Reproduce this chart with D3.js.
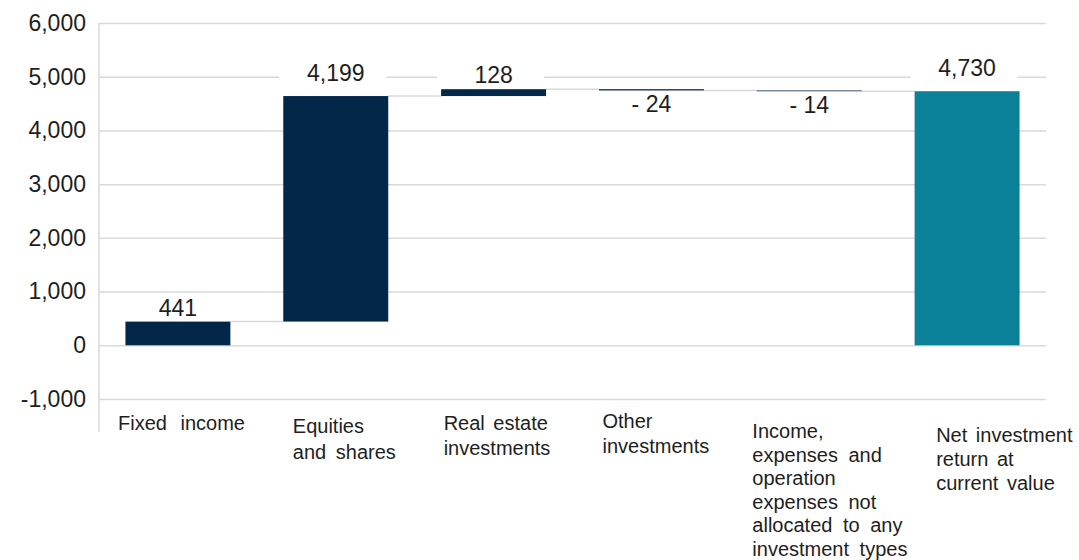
<!DOCTYPE html>
<html>
<head>
<meta charset="utf-8">
<script src="https://cdn.jsdelivr.net/npm/d3@7"></script>
<style>
  html, body { margin: 0; padding: 0; background: #fff; }
  svg { display: block; font-family: "Liberation Sans", Arial, sans-serif; }
</style>
</head>
<body>
<svg id="chart" width="1079" height="560"></svg>
<script>
// Contributions to net investment return (waterfall)
const categories = [
  "Fixed income",
  "Equities and shares",
  "Real estate investments",
  "Other investments",
  "Income, expenses and operation expenses not allocated to any investment types",
  "Net investment return at current value"
];
const categoryLines = [
  ["Fixed income"],
  ["Equities", "and shares"],
  ["Real estate", "investments"],
  ["Other", "investments"],
  ["Income,", "expenses and", "operation", "expenses not", "allocated to any", "investment types"],
  ["Net investment", "return at", "current value"]
];
const changes = [441, 4199, 128, -24, -14];
const totalValue = 4730;
const valueLabels = ["441", "4,199", "128", "- 24", "- 14", "4,730"];
const yTicks = [-1000, 0, 1000, 2000, 3000, 4000, 5000, 6000];

// Label placement for the wrapped category text blocks
const catLabelDx = [19, 36, 29, 30, 22, 48];
const catLabelY = [430, 433, 430, 428, 438, 442];
const catLineHeight = [26, 26, 25, 25, 23.5, 24];
const catWordSpacing = [8, 4, 3, 0, 5, 3];
const valueLabelGap = [6, 15, 6, 5, 5, 15];

const navy = "#022749";
const teal = "#0a8198";
const gridColor = "#d9d9d9";
const textColor = "#1e1e1e";

// Build waterfall segments
const bars = [];
let running = 0;
changes.forEach((v, i) => {
  const start = running;
  running += v;
  bars.push({ cat: categories[i], start, end: running, value: v, label: valueLabels[i], total: false });
});
bars.push({ cat: categories[5], start: 0, end: totalValue, value: totalValue, label: valueLabels[5], total: true });

const svg = d3.select("#chart");
const plotLeft = 99, plotRight = 1046, plotTop = 23, plotBottom = 399;

const y = d3.scaleLinear().domain([-1000, 6000]).range([plotBottom, plotTop]);
const x = d3.scaleBand().domain(categories).range([plotLeft, plotRight])
  .paddingInner(0.335).paddingOuter(0.1675);

// Gridlines and y tick labels
const yAxis = d3.axisLeft(y).tickValues(yTicks)
  .tickSize(-(plotRight - plotLeft)).tickPadding(13)
  .tickFormat(d3.format(",.0f"));
const gy = svg.append("g").attr("transform", `translate(${plotLeft},0)`).call(yAxis);
gy.select(".domain").remove();
gy.selectAll(".tick line").attr("stroke", gridColor).attr("stroke-width", 1.5);
gy.selectAll(".tick text")
  .attr("fill", textColor).style("font-size", "23px")
  .text(d => d < 0 ? "-" + d3.format(",")(-d) : d3.format(",")(d));

// Vertical axis line
svg.append("line")
  .attr("x1", plotLeft).attr("x2", plotLeft)
  .attr("y1", plotTop).attr("y2", 432)
  .attr("stroke", gridColor).attr("stroke-width", 1.5);

// Connectors between consecutive bars
const connectors = bars.slice(0, -1).map((b, i) => ({ level: b.end, from: b.cat, to: bars[i + 1].cat }));
svg.append("g").selectAll("line").data(connectors).join("line")
  .attr("x1", d => x(d.from) + x.bandwidth())
  .attr("x2", d => x(d.to))
  .attr("y1", d => y(d.level)).attr("y2", d => y(d.level))
  .attr("stroke", gridColor).attr("stroke-width", 1.5);

// Bars
svg.append("g").selectAll("rect").data(bars).join("rect")
  .attr("x", d => x(d.cat))
  .attr("width", x.bandwidth())
  .attr("y", d => y(Math.max(d.start, d.end)))
  .attr("height", d => Math.max(0.8, Math.abs(y(d.start) - y(d.end))))
  .attr("fill", d => d.total ? teal : navy);

// Value labels with white backing
const lab = svg.append("g").selectAll("g").data(bars).join("g");
lab.each(function (d, i) {
  const g = d3.select(this);
  const cx = x(d.cat) + x.bandwidth() / 2;
  const neg = d.value < 0;
  const edge = neg ? y(Math.min(d.start, d.end)) : y(Math.max(d.start, d.end));
  const baseline = neg ? edge + valueLabelGap[i] + 17 : edge - valueLabelGap[i];
  g.append("rect")
    .attr("x", cx - x.bandwidth() / 2 - 4)
    .attr("width", x.bandwidth() + 2)
    .attr("y", baseline - 19).attr("height", 22)
    .attr("fill", "#fff");
  g.append("text")
    .attr("x", cx).attr("y", baseline)
    .attr("text-anchor", "middle")
    .attr("fill", textColor).style("font-size", "23px")
    .text(d.label);
});

// Category labels (wrapped, left-aligned blocks)
const cg = svg.append("g").selectAll("text").data(categories).join("text")
  .attr("fill", textColor).style("font-size", "20px")
  .style("word-spacing", (d, i) => catWordSpacing[i] + "px");
cg.each(function (d, i) {
  const t = d3.select(this);
  const x0 = x(d) - x.step() * x.paddingInner() / 2 + catLabelDx[i];
  categoryLines[i].forEach((line, k) => {
    t.append("tspan").attr("x", x0).attr("y", catLabelY[i] + k * catLineHeight[i]).text(line);
  });
});
</script>
</body>
</html>
